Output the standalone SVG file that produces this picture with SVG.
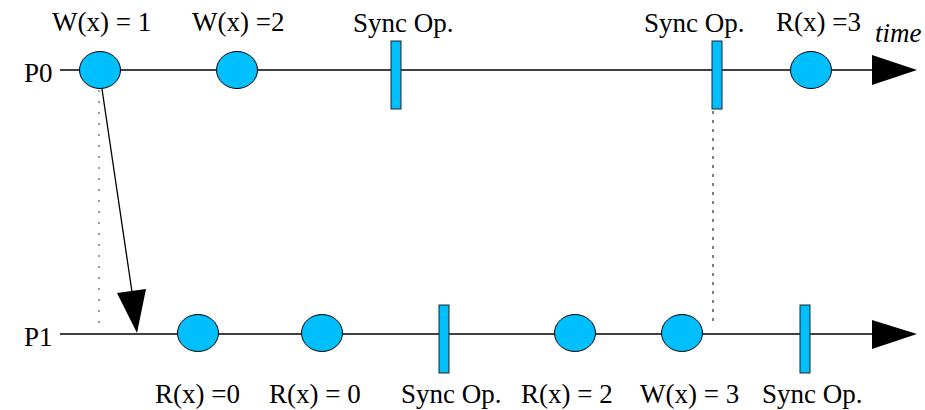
<svg xmlns="http://www.w3.org/2000/svg" width="925" height="410" viewBox="0 0 925 410">
<style>
text{font-family:"Liberation Serif","Times New Roman",serif;font-size:27px;fill:#000}
.ev{fill:#00bfff;stroke:#000;stroke-width:1}
.sy{fill:#00bfff;stroke:#222;stroke-width:1}
.tl{stroke:#000;stroke-width:1.5;fill:none}
</style>
<rect width="925" height="410" fill="#fff"/>
<g id="timelines">
<line class="tl" x1="60" y1="70" x2="875" y2="70"/>
<polygon points="872,55 917,70 872,85" fill="#000"/>
<line class="tl" x1="60" y1="334" x2="875" y2="334"/>
<polygon points="872,320 917,334 872,349" fill="#000"/>
<text x="24" y="82">P0</text>
<text x="24" y="346">P1</text>
<text x="875" y="42" font-style="italic">time</text>
</g>
<g id="connectors">
<line x1="99" y1="90" x2="99" y2="330" stroke="#777" stroke-width="1.5" stroke-dasharray="2,9"/>
<line x1="713" y1="111" x2="713" y2="326" stroke="#000" stroke-width="1" stroke-dasharray="3,6"/>
<line x1="102" y1="89" x2="132" y2="292" stroke="#000" stroke-width="1.3"/>
<polygon points="117,293 146,289 137,333" fill="#000"/>
</g>
<g id="w1"><ellipse class="ev" cx="100" cy="70" rx="20.5" ry="18.5"/><text x="52" y="31">W(x) = 1</text></g>
<g id="w2"><ellipse class="ev" cx="237" cy="70" rx="20.5" ry="18.5"/><text x="192" y="31">W(x) =2</text></g>
<g id="sync0a"><rect class="sy" x="391" y="41" width="10" height="68"/><text x="353" y="32">Sync Op.</text></g>
<g id="sync0b"><rect class="sy" x="712" y="41" width="10" height="68"/><text x="644" y="32">Sync Op.</text></g>
<g id="r3"><ellipse class="ev" cx="811" cy="70" rx="20.5" ry="18.5"/><text x="776" y="31">R(x) =3</text></g>
<g id="r0a"><ellipse class="ev" cx="198" cy="333" rx="20.5" ry="18.5"/><text x="155" y="403">R(x) =0</text></g>
<g id="r0b"><ellipse class="ev" cx="322" cy="333" rx="20.5" ry="18.5"/><text x="269" y="403">R(x) = 0</text></g>
<g id="sync1a"><rect class="sy" x="439" y="305" width="10" height="68"/><text x="401" y="403">Sync Op.</text></g>
<g id="r2"><ellipse class="ev" cx="575" cy="333" rx="20.5" ry="18.5"/><text x="521" y="403">R(x) = 2</text></g>
<g id="w3"><ellipse class="ev" cx="682" cy="333" rx="20.5" ry="18.5"/><text x="640" y="403">W(x) = 3</text></g>
<g id="sync1b"><rect class="sy" x="800" y="305" width="10" height="68"/><text x="762" y="403">Sync Op.</text></g>
</svg>
